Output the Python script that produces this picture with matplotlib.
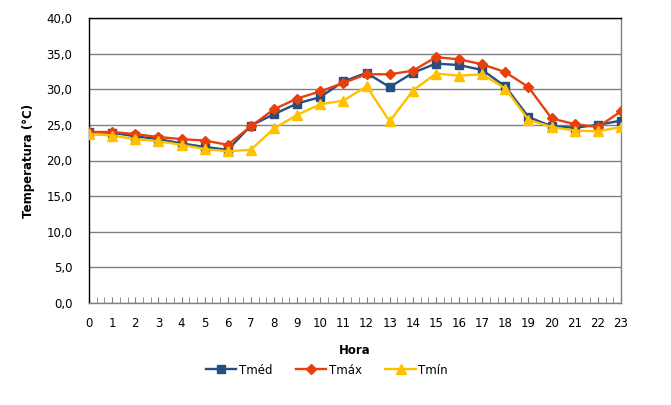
import matplotlib
matplotlib.use("Agg")
import matplotlib.pyplot as plt
from matplotlib.ticker import MultipleLocator, FuncFormatter

horas = list(range(24))
t_med = [24.0, 23.9, 23.4, 23.0, 22.4, 21.9, 21.5, 24.9, 26.5, 28.0, 28.9, 31.1,
         32.3, 30.3, 32.3, 33.6, 33.4, 32.7, 30.4, 26.1, 24.8, 24.6, 25.0, 25.6]
t_max = [24.0, 24.0, 23.7, 23.3, 23.0, 22.8, 22.2, 24.8, 27.2, 28.7, 29.7, 30.9,
         32.1, 32.1, 32.6, 34.5, 34.2, 33.5, 32.4, 30.3, 25.9, 25.1, 24.7, 26.9]
t_min = [23.7, 23.5, 23.0, 22.7, 22.2, 21.6, 21.3, 21.5, 24.5, 26.4, 27.9, 28.4,
         30.4, 25.5, 29.8, 32.2, 31.9, 32.1, 30.1, 25.7, 24.7, 24.2, 24.1, 24.7]

plt.rcParams['font.family'] = ['DejaVu Sans']

fig = plt.figure(figsize=(6.71, 4.05), dpi=100)
ax = fig.add_axes([89 / 671, 1 - 303 / 405, 532 / 671, 285 / 405])

ax.plot(horas, t_med, color='#254E83', marker='s', markersize=5.5, lw=1.7, label='Tméd', zorder=3)
ax.plot(horas, t_max, color='#E8400D', marker='D', markersize=5, lw=1.7, label='Tmáx', zorder=4)
ax.plot(horas, t_min, color='#FFC000', marker='^', markersize=6.5, lw=1.7, label='Tmín', zorder=5)

ax.set_xlim(0, 23)
ax.set_ylim(0, 40)
ax.yaxis.set_major_locator(MultipleLocator(5))
ax.yaxis.set_major_formatter(FuncFormatter(lambda v, p: f'{v:.1f}'.replace('.', ',')))
ax.xaxis.set_major_locator(MultipleLocator(1))
ax.xaxis.set_minor_locator(MultipleLocator(1 / 3))
ax.grid(axis='y', color='#808080', lw=1)
ax.set_axisbelow(True)

ax.tick_params(axis='y', length=0, labelsize=8.5, pad=12)
ax.tick_params(axis='x', which='both', direction='in', length=4, color='#808080',
               labelsize=8.5, pad=10)

ax.spines['left'].set_color('black')
ax.spines['top'].set_color('black')
ax.spines['right'].set_color('#808080')
ax.spines['bottom'].set_color('#808080')
for s in ax.spines.values():
    s.set_linewidth(1)

ax.set_xlabel('Hora', fontsize=8.5, fontweight='bold', labelpad=10)
ax.set_ylabel('Temperatura (°C)', fontsize=8.5, fontweight='bold', labelpad=8)

ax.legend(loc='upper center', bbox_to_anchor=(0.447, -0.175), ncol=3, frameon=False,
          fontsize=8.5, handlelength=2.6, handletextpad=0.2, columnspacing=2.0)

fig.savefig('out.png', dpi=100)
